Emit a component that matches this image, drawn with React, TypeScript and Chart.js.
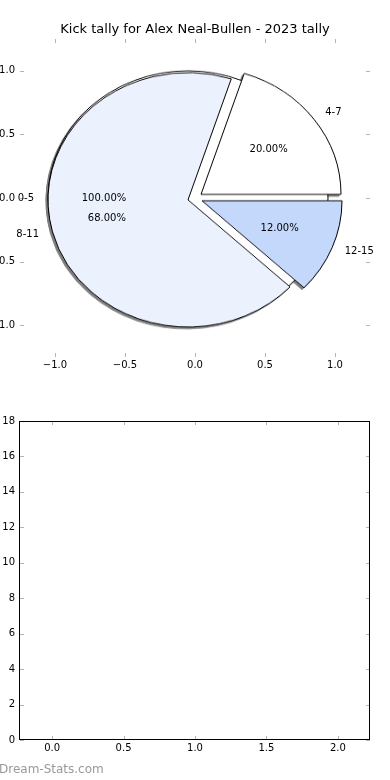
import { useEffect, useRef } from 'react';
import { Chart, registerables } from 'chart.js';

Chart.register(...registerables);

// ---------- data ----------
const TITLE = 'Kick tally for Alex Neal-Bullen - 2023 tally';
const WATERMARK = 'Dream-Stats.com';

const BASE_LABELS = ['0-5'];
const BASE_VALUES = [100];
const BASE_COLORS = ['#ffffff'];

const SLICE_LABELS = ['4-7', '8-11', '12-15'];
const SLICE_VALUES = [20, 68, 12];
const SLICE_COLORS = ['#ffffff', '#ebf1fd', '#c4d8fc'];

const EXPLODE = 0.05;
const LABEL_DIST = 1.1;
const PCT_DIST = 0.6;

const PIE_MIN = -1.25;
const PIE_MAX = 1.25;
const PIE_TICKS = [-1, -0.5, 0, 0.5, 1];
const PIE_TICK_LABELS = ['\u22121.0', '\u22120.5', '0.0', '0.5', '1.0'];

const BAR_X_MIN = -0.225;
const BAR_X_MAX = 2.225;
const BAR_X_TICKS = [0, 0.5, 1, 1.5, 2];
const BAR_X_TICK_LABELS = ['0.0', '0.5', '1.0', '1.5', '2.0'];
const BAR_Y_MIN = 0;
const BAR_Y_MAX = 18;
const BAR_Y_TICKS = [0, 2, 4, 6, 8, 10, 12, 14, 16, 18];
const BAR_Y_TICK_LABELS = ['0', '2', '4', '6', '8', '10', '12', '14', '16', '18'];

// ---------- layout ----------
const FONT = '"DejaVu Sans", sans-serif';
const CANVAS_LEFT = -40;
const CANVAS_W = 430;
const TOP_H = 390;
const BOT_TOP = 390;
const BOT_H = 390;
const PIE_S = 340;

type Wedge = { t1: number; t2: number; tm: number; frac: number; span: number };
function wedges(values: number[]): Wedge[] {
  const total = values.reduce((a, b) => a + b, 0);
  let cum = 0;
  return values.map((v) => {
    const t1 = (cum / total) * 360;
    cum += v;
    const t2 = (cum / total) * 360;
    return { t1, t2, tm: (t1 + t2) / 2, frac: v / total, span: t2 - t1 };
  });
}

const innerTicks = (len: number, color: string) => ({
  id: 'innerTicks',
  afterDraw(chart: any) {
    const { ctx, chartArea: a, scales } = chart;
    ctx.save();
    ctx.strokeStyle = color;
    ctx.lineWidth = 1;
    ctx.beginPath();
    scales.x.ticks.forEach((t: any) => {
      const px = Math.round(scales.x.getPixelForValue(t.value)) + 0.5;
      ctx.moveTo(px, a.top);
      ctx.lineTo(px, a.top + len);
      ctx.moveTo(px, a.bottom);
      ctx.lineTo(px, a.bottom - len);
    });
    scales.y.ticks.forEach((t: any) => {
      const py = Math.round(scales.y.getPixelForValue(t.value)) + 0.5;
      ctx.moveTo(a.left, py);
      ctx.lineTo(a.left + len, py);
      ctx.moveTo(a.right, py);
      ctx.lineTo(a.right - len, py);
    });
    ctx.stroke();
    ctx.restore();
  },
});

const spines = {
  id: 'spines',
  afterDraw(chart: any) {
    const { ctx, chartArea: a } = chart;
    ctx.save();
    ctx.strokeStyle = '#000';
    ctx.lineWidth = 1;
    const l = Math.round(a.left) - 0.5;
    const t = Math.round(a.top) + 0.5;
    const r = Math.round(a.right) - 0.5;
    const b = Math.round(a.bottom) - 0.5;
    ctx.strokeRect(l, t, r - l, b - t);
    ctx.restore();
  },
};

const pieLabels = {
  id: 'pieLabels',
  afterDraw(chart: any) {
    const { ctx, scales } = chart;
    const x = scales.x;
    const y = scales.y;
    ctx.save();
    ctx.font = `10px ${FONT}`;
    ctx.fillStyle = '#000';
    ctx.textBaseline = 'middle';
    const draw = (labels: string[], values: number[]) => {
      wedges(values).forEach((w, i) => {
        const ang = (w.tm * Math.PI) / 180;
        const c = Math.cos(ang);
        const s = Math.sin(ang);
        const ox = EXPLODE * c;
        const oy = EXPLODE * s;
        const lx = ox + LABEL_DIST * c;
        const ly = oy + LABEL_DIST * s;
        ctx.textAlign = lx > 0 ? 'left' : 'right';
        ctx.fillText(labels[i], x.getPixelForValue(lx), y.getPixelForValue(ly));
        ctx.textAlign = 'center';
        ctx.fillText(
          (w.frac * 100).toFixed(2) + '%',
          x.getPixelForValue(ox + PCT_DIST * c),
          y.getPixelForValue(oy + PCT_DIST * s)
        );
      });
    };
    draw(BASE_LABELS, BASE_VALUES);
    draw(SLICE_LABELS, SLICE_VALUES);
    ctx.restore();
  },
};

function axisScale(
  min: number,
  max: number,
  ticks: number[],
  labels: string[],
  horizontal: boolean,
  size: number
) {
  return {
    type: 'linear',
    position: horizontal ? 'bottom' : 'left',
    min,
    max,
    afterBuildTicks: (s: any) => {
      s.ticks = ticks.map((v) => ({ value: v }));
    },
    afterFit: (s: any) => {
      if (horizontal) s.height = size;
      else s.width = size;
    },
    ticks: {
      autoSkip: false,
      maxRotation: 0,
      minRotation: 0,
      padding: horizontal ? 2 : 5,
      color: '#000',
      font: { family: FONT, size: 10 },
      callback: (_v: any, i: number) => labels[i] ?? '',
    },
    grid: { display: false, drawTicks: false },
    border: { display: false },
  };
}

export default function App() {
  const topRef = useRef<HTMLCanvasElement>(null);
  const botRef = useRef<HTMLCanvasElement>(null);
  const wrapRef = useRef<HTMLDivElement>(null);
  const pieRefs = useRef<(HTMLCanvasElement | null)[]>([]);

  useEffect(() => {
    const charts: Chart[] = [];

    const top = new Chart(topRef.current as HTMLCanvasElement, {
      type: 'scatter',
      data: { datasets: [{ data: [] }] },
      options: {
        responsive: false,
        animation: false,
        devicePixelRatio: 1,
        events: [],
        layout: { padding: { left: 0, right: 20, top: 0, bottom: 0 } },
        scales: {
          x: axisScale(PIE_MIN, PIE_MAX, PIE_TICKS, PIE_TICK_LABELS, true, 33) as any,
          y: axisScale(PIE_MIN, PIE_MAX, PIE_TICKS, PIE_TICK_LABELS, false, 60) as any,
        },
        plugins: {
          legend: { display: false },
          tooltip: { enabled: false },
          title: {
            display: true,
            text: TITLE,
            fullSize: false,
            color: '#000',
            font: { family: FONT, size: 13, weight: 'normal' },
            padding: { top: 21.7, bottom: 1.7 },
          },
        },
      } as any,
      plugins: [innerTicks(4, '#b4b4b4'), pieLabels],
    });
    charts.push(top);

    const bot = new Chart(botRef.current as HTMLCanvasElement, {
      type: 'scatter',
      data: { datasets: [{ data: [] }] },
      options: {
        responsive: false,
        animation: false,
        devicePixelRatio: 1,
        events: [],
        layout: { padding: { left: 0, right: 20, top: 31, bottom: 0 } },
        scales: {
          x: axisScale(BAR_X_MIN, BAR_X_MAX, BAR_X_TICKS, BAR_X_TICK_LABELS, true, 40) as any,
          y: axisScale(BAR_Y_MIN, BAR_Y_MAX, BAR_Y_TICKS, BAR_Y_TICK_LABELS, false, 60) as any,
        },
        plugins: { legend: { display: false }, tooltip: { enabled: false } },
      } as any,
      plugins: [innerTicks(4, '#b4b4b4'), spines],
    });
    charts.push(bot);

    // pie geometry derived from the top axes' scales
    const xs: any = top.scales.x;
    const ys: any = top.scales.y;
    const rx = xs.getPixelForValue(1) - xs.getPixelForValue(0);
    const ry = ys.getPixelForValue(0) - ys.getPixelForValue(1);
    const cx = CANVAS_LEFT + xs.getPixelForValue(0);
    const cy = ys.getPixelForValue(0);
    const wrap = wrapRef.current as HTMLDivElement;
    wrap.style.left = `${cx - PIE_S / 2}px`;
    wrap.style.top = `${cy - PIE_S / 2}px`;
    wrap.style.transform = `scaleY(${ry / rx})`;

    const makePie = (
      canvas: HTMLCanvasElement,
      labels: string[],
      values: number[],
      colors: string[],
      target: number,
      rotation: number,
      tm: number
    ) => {
      const ang = (tm * Math.PI) / 180;
      canvas.style.left = `${EXPLODE * rx * Math.cos(ang)}px`;
      canvas.style.top = `${-EXPLODE * rx * Math.sin(ang)}px`;
      const c = new Chart(canvas, {
        type: 'pie',
        data: {
          labels,
          datasets: [
            {
              data: values,
              backgroundColor: values.map((_, j) => (j === target ? colors[j] : 'rgba(0,0,0,0)')),
              borderColor: values.map((_, j) => (j === target ? '#000' : 'rgba(0,0,0,0)')),
              borderWidth: values.map((_, j) => (j === target ? 1 : 0)),
              borderJoinStyle: 'miter',
              borderAlign: 'center',
              rotation,
              radius: rx,
            } as any,
          ],
        },
        options: {
          responsive: false,
          animation: false,
          devicePixelRatio: 1,
          events: [],
          layout: { padding: 0 },
          plugins: { legend: { display: false }, tooltip: { enabled: false } },
        } as any,
      });
      charts.push(c);
    };

    // base full circle (0-5): start pointing left so its seam hides under the big slice
    const bw = wedges(BASE_VALUES);
    makePie(pieRefs.current[0] as HTMLCanvasElement, BASE_LABELS, BASE_VALUES, BASE_COLORS, 0, 270, bw[0].tm);

    // three exploded slices, matplotlib counter-clockwise from 0deg == Chart.js clockwise reversed from 90
    const sw = wedges(SLICE_VALUES);
    const revLabels = [...SLICE_LABELS].reverse();
    const revValues = [...SLICE_VALUES].reverse();
    const revColors = [...SLICE_COLORS].reverse();
    SLICE_VALUES.forEach((_, i) => {
      const target = SLICE_VALUES.length - 1 - i;
      makePie(pieRefs.current[i + 1] as HTMLCanvasElement, revLabels, revValues, revColors, target, 90, sw[i].tm);
    });

    return () => {
      charts.forEach((c) => c.destroy());
    };
  }, []);

  return (
    <div
      style={{
        position: 'fixed',
        left: 0,
        top: 0,
        width: 390,
        height: 780,
        overflow: 'hidden',
        background: '#fff',
      }}
    >
      <div
        ref={wrapRef}
        style={{
          position: 'absolute',
          left: 0,
          top: 0,
          width: PIE_S,
          height: PIE_S,
          transformOrigin: '50% 50%',
          filter: 'drop-shadow(-2px 2.5px 0 rgba(40,40,40,0.6))',
        }}
      >
        {Array.from({ length: 1 + SLICE_VALUES.length }).map((_, i) => (
          <canvas
            key={i}
            ref={(el) => {
              pieRefs.current[i] = el;
            }}
            width={PIE_S}
            height={PIE_S}
            style={{ position: 'absolute', left: 0, top: 0, width: PIE_S, height: PIE_S }}
          />
        ))}
      </div>
      <canvas
        ref={topRef}
        width={CANVAS_W}
        height={TOP_H}
        style={{ position: 'absolute', left: CANVAS_LEFT, top: 0, width: CANVAS_W, height: TOP_H }}
      />
      <canvas
        ref={botRef}
        width={CANVAS_W}
        height={BOT_H}
        style={{ position: 'absolute', left: CANVAS_LEFT, top: BOT_TOP, width: CANVAS_W, height: BOT_H }}
      />
      <div
        style={{
          position: 'absolute',
          left: -1,
          top: 762,
          fontFamily: FONT,
          fontSize: 12,
          lineHeight: '14px',
          color: '#999',
          whiteSpace: 'nowrap',
        }}
      >
        {WATERMARK}
      </div>
    </div>
  );
}
